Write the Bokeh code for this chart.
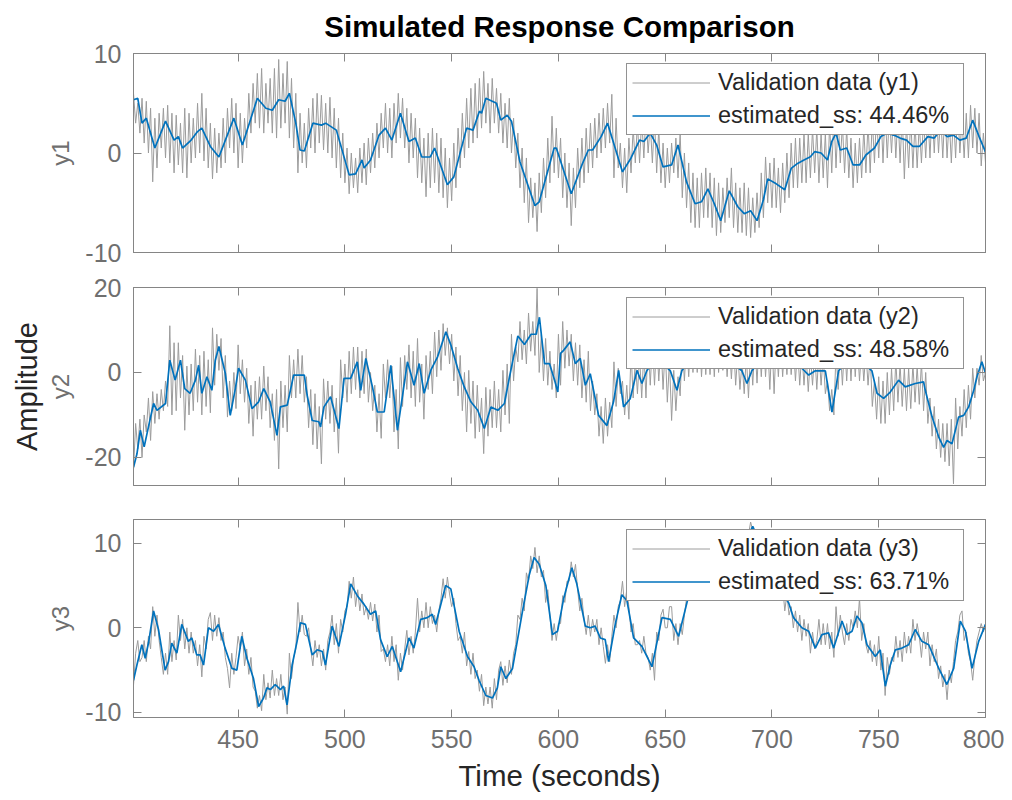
from bokeh.plotting import figure
from bokeh.layouts import column
from bokeh.models import Range1d, FixedTicker, LinearAxis, Legend, LegendItem, Title
from bokeh.embed import file_html
from bokeh.resources import INLINE

# ---------------- data ----------------
time_ticks = [450, 500, 550, 600, 650, 700, 750, 800]
val_t = list(range(401, 801))  # one validation sample per second

val_y1 = [6.0, 3.0, 5.0, 2.0, 5.5, 1.0, 5.2, 0.0, 4.5, -2.9, 3.5, -1.5, 4.0, 0.5, 4.5, -0.5, 4.8, -1.0, 4.0, -2.0,
          3.8, -1.2, 3.0, -2.0, 4.5, -2.5, 4.0, -1.0, 3.5, -0.5, 5.0, 0.0, 6.0, -0.8, 4.5, -1.5, 3.0, -2.6, 2.5, -2.0,
          2.0, -1.5, 3.5, -1.0, 4.5, 0.5, 5.5, 0.0, 5.0, -1.5, 4.0, -1.0, 3.5, 0.5, 6.0, 2.0, 7.0, 3.0, 8.0, 2.5,
          8.5, 2.0, 7.0, 3.0, 7.5, 2.0, 8.5, 1.5, 9.4, 2.5, 8.0, 3.0, 9.2, 1.5, 7.5, 0.5, 6.0, -2.0, 4.0, -1.0,
          3.0, -1.5, 4.5, 0.5, 5.5, 0.0, 6.0, 1.0, 5.8, 0.3, 5.0, 0.0, 5.6, -0.5, 4.5, -1.5, 3.5, -2.5, 2.0, -3.0,
          0.5, -4.1, 0.0, -3.5, -0.5, -4.0, 0.5, -3.0, 1.0, -3.2, 1.5, -2.0, 2.0, -1.5, 3.0, -0.5, 4.0, 0.5, 5.0, 0.0,
          4.5, -0.5, 5.0, 1.0, 6.0, 1.5, 5.5, 0.5, 4.5, -1.0, 4.0, -0.5, 3.5, -2.5, 2.5, -3.0, 1.5, -4.4, 2.0, -3.5,
          2.5, -3.0, 2.0, -4.0, 1.5, -4.5, 0.5, -5.5, -0.5, -4.8, 1.0, -3.5, 2.5, -1.5, 4.0, -0.5, 5.5, 0.5, 6.5, 1.0,
          7.0, 1.5, 7.5, 2.5, 8.2, 3.0, 7.0, 2.0, 7.5, 3.0, 6.5, 2.0, 6.0, 1.0, 5.0, 0.5, 5.5, 0.0, 3.5, -1.5,
          2.0, -3.5, 0.5, -5.0, -0.5, -7.0, -2.5, -6.5, -3.0, -7.9, -2.0, -6.0, -0.5, -4.5, 1.5, -3.0, 3.7, -2.0, 2.5, -2.5,
          1.5, -4.5, 0.0, -5.5, -1.0, -7.3, -1.5, -5.5, 0.5, -3.5, 1.5, -3.0, 2.5, -2.0, 3.0, -1.5, 3.5, -0.5, 4.0, 0.0,
          4.5, 0.5, 5.0, 1.0, 5.9, -2.5, 3.5, -1.5, 1.0, -3.5, 0.5, -4.0, 1.5, -2.0, 2.5, -1.0, 3.0, -1.0, 3.5, -0.5,
          4.0, 0.0, 3.0, -1.0, 3.5, -2.0, 2.5, -3.0, 1.0, -3.5, 0.5, -3.0, 1.0, -2.0, 1.5, -2.5, 2.0, -4.5, 0.0, -5.5,
          -1.0, -7.0, -2.0, -7.5, -2.5, -7.5, -2.0, -6.5, -1.5, -6.5, -2.0, -7.5, -2.5, -8.3, -3.0, -8.0, -3.5, -7.0, -2.5, -6.5,
          -1.5, -7.5, -3.0, -8.0, -3.5, -8.0, -3.0, -8.3, -3.5, -8.5, -4.5, -8.0, -4.0, -7.5, -2.0, -6.5, -0.4, -5.0, -1.0, -5.5,
          -0.5, -5.5, -1.5, -6.0, -1.0, -5.0, 0.0, -4.5, 1.0, -3.5, 1.5, -3.5, 1.5, -3.0, 2.0, -3.0, 2.0, -2.5, 2.5, -2.0,
          2.5, -3.0, 2.0, -2.5, 2.0, -3.5, 3.0, -2.0, 4.0, -1.5, 3.5, -1.0, 3.0, -2.0, 2.5, -2.5, 1.5, -3.5, 1.0, -3.0,
          1.5, -2.5, 2.5, -2.0, 3.0, -2.0, 3.5, -1.0, 4.0, -0.5, 4.5, -1.0, 4.5, -0.5, 4.0, 0.0, 4.5, -0.5, 4.0, -1.0,
          4.0, -2.6, 3.0, -1.5, 3.5, -1.5, 3.0, -1.5, 3.0, -1.0, 3.5, -0.5, 4.0, -0.5, 4.5, 0.0, 4.5, 0.0, 4.0, -0.5,
          4.5, -0.5, 3.5, -1.0, 4.0, -0.5, 4.5, 0.0, 3.5, -0.5, 4.0, -0.5, 4.8, 0.5, 4.5, 0.0, 4.0, -1.3, 2.0, -1.0]

val_y2 = [-23.0, -12.0, -18.0, -11.0, -20.0, -10.0, -14.0, -6.0, -16.0, -4.5, -12.0, -5.0, -11.0, -4.0, -9.0, -2.0, -8.0, 11.0, -10.0, 7.0,
          -9.0, 7.0, -6.0, 4.0, -13.6, 1.5, -10.0, 2.0, -9.0, 5.5, -7.0, 4.0, -10.0, 5.0, -8.0, 3.0, -9.5, 10.5, -3.0, 9.0,
          0.5, 8.0, -6.0, 4.0, -10.5, -2.0, -9.0, 0.0, -8.5, 6.5, -5.0, 3.0, -7.0, 1.0, -12.0, -3.0, -15.0, -2.0, -11.0, -1.0,
          -11.0, 1.5, -9.0, -1.0, -13.0, -5.0, -16.0, -4.0, -22.7, -2.0, -13.0, -3.0, -14.0, 4.0, -6.0, 3.0, -6.0, 5.5, -5.0, 4.0,
          -7.0, -1.0, -13.0, -4.0, -17.0, -5.0, -18.0, -8.0, -21.5, -1.5, -11.0, -2.0, -12.0, -3.0, -14.0, -6.0, -19.0, 3.0, -6.0, 2.0,
          -7.0, 5.0, -5.0, 6.0, -4.0, 6.0, -6.0, 5.0, -5.0, 5.5, -7.0, 0.0, -9.0, -3.0, -14.0, -5.0, -15.5, 2.0, -6.0, 3.0,
          -6.0, 1.5, -14.0, -4.0, -18.0, 3.5, -8.0, 4.0, -4.0, 6.5, -6.0, 5.0, -8.0, 8.0, -7.0, 2.0, -11.0, 4.0, -4.0, 5.0,
          -5.0, 9.5, -1.0, 10.0, 0.5, 11.5, 4.0, 10.5, 2.0, 9.0, -2.0, 6.0, -5.5, 4.0, -9.0, 0.0, -14.0, 0.5, -12.0, -2.0,
          -15.5, -3.0, -14.0, -6.0, -19.1, -3.5, -15.0, -4.0, -13.0, -2.0, -13.0, -4.0, -14.0, 0.5, -10.0, 2.0, -12.0, 9.0, -2.0, 6.0,
          2.5, 12.0, 3.0, 10.0, 2.0, 14.0, 5.0, 12.0, 4.0, 19.8, 0.0, 9.0, -2.0, 8.0, -3.0, 5.0, -4.0, 2.0, -6.0, 9.0,
          -3.0, 12.0, 1.0, 10.0, 1.5, 9.0, -2.0, 7.0, -3.0, 6.5, -6.0, 3.0, -7.0, 5.0, -9.0, -2.0, -10.0, -5.0, -15.0, -8.0,
          -16.7, -6.0, -15.0, -7.0, -13.0, 2.5, -8.0, 1.0, -5.0, -2.0, -10.0, -3.0, -11.0, 5.0, -6.0, 3.0, -5.0, 4.0, -6.0, 5.0,
          -6.0, 8.0, -3.0, 7.0, -3.0, 8.0, -2.0, 7.0, -4.0, 6.0, -7.0, 3.0, -11.3, 0.5, -9.0, -1.0, -5.5, 7.0, -2.0, 8.0,
          -1.0, 8.0, 0.0, 9.0, 0.0, 9.0, -1.0, 8.0, -0.5, 8.0, -0.5, 9.0, -1.0, 9.0, 0.0, 8.0, 0.5, 8.0, -1.0, 7.0,
          -1.5, 7.0, -3.0, 5.0, -4.0, 2.5, -5.0, 4.0, -6.0, 6.0, -3.0, 7.0, -2.5, 8.0, -1.0, 8.0, -1.0, 7.0, -4.0, 8.0,
          -5.0, 7.5, -1.0, 8.0, -1.0, 7.0, -0.5, 8.0, -0.5, 7.0, -2.0, 6.0, -3.0, 5.0, -3.0, 4.0, -4.5, 4.0, -3.0, 5.0,
          -4.0, 5.0, -3.0, 4.0, -5.0, -2.0, -9.0, -4.0, -10.0, 5.0, -4.0, 6.0, -3.0, 7.0, -2.0, 8.0, -2.0, 8.0, -1.0, 7.0,
          -2.0, 6.0, -2.0, 5.0, -3.0, 4.0, -8.0, -2.0, -11.0, -1.0, -12.0, -2.0, -12.0, 0.0, -10.0, 1.0, -9.0, 3.0, -7.0, 2.0,
          -8.0, 1.0, -9.0, 1.0, -8.5, 2.0, -7.0, 1.5, -7.5, 2.5, -9.0, 0.0, -12.0, -6.0, -15.0, -8.0, -18.0, -11.0, -20.0, -12.0,
          -21.0, -12.0, -22.0, -11.0, -26.2, -6.0, -18.0, -8.0, -15.0, -4.0, -13.0, -3.0, -11.0, 1.0, -6.0, 1.0, -3.0, 4.0, -2.0, 0.0]

val_y3 = [-6.8, -3.0, -1.5, -4.0, -3.5, -1.5, -4.0, -1.0, -2.5, 2.5, -1.0, 1.5, -1.5, -3.5, -5.5, -3.0, -5.5, -0.5, -4.0, -1.5,
          -3.8, 1.5, -1.5, 1.0, -2.5, 0.0, -3.0, -0.5, -3.0, -1.5, -4.5, -2.0, -5.8, -1.0, -2.5, 1.0, 1.8, -1.5, 1.5, -1.0,
          1.2, -1.5, -0.5, -3.5, -4.8, -7.1, -3.0, -5.5, -3.5, -1.0, -2.5, -0.5, -4.5, -2.5, -5.5, -3.5, -7.0, -7.5, -9.5, -8.0,
          -9.8, -5.5, -8.5, -6.5, -8.3, -5.0, -8.0, -6.0, -8.0, -5.5, -8.5, -7.0, -10.2, -3.0, -6.0, -3.5, -2.5, 3.0, -0.5, 1.5,
          -0.8, -1.0, 0.0, -2.5, -4.5, -1.5, -3.5, -2.0, -4.5, -2.5, -5.0, -1.5, -0.5, 1.5, -2.0, 0.5, -3.0, 1.0, -0.5, 2.0,
          2.5, 5.5, 3.5, 6.0, 2.5, 4.5, 2.0, 4.0, 1.5, 2.5, 1.0, 3.0, 0.8, 2.8, -0.5, 1.5, -2.8, -2.5, -4.0, -2.0,
          -4.5, -1.0, -4.0, -2.0, -6.2, -3.0, -5.0, -2.5, -0.3, -3.2, -1.0, -3.0, -0.5, 3.5, -0.5, 2.0, 0.0, 3.0, 0.0, 2.5,
          0.5, 1.5, -0.5, 2.0, 3.5, 5.8, 3.5, 6.0, 4.0, 2.5, 3.5, 0.5, -1.5, -1.0, -3.0, -0.5, -4.5, -2.8, -5.5, -3.0,
          -6.0, -5.0, -7.5, -5.5, -9.2, -7.0, -9.0, -7.0, -9.5, -6.0, -8.5, -5.0, -4.0, -6.8, -4.5, -6.5, -3.8, -5.5, -3.0, -2.0,
          1.5, 1.0, 3.5, 2.0, 6.5, 5.5, 8.5, 7.0, 9.5, 6.5, 8.5, 6.0, 6.8, 3.0, 4.5, 1.5, -1.5, 0.5, -1.5, 0.5,
          0.5, 3.8, 3.0, 5.5, 5.5, 7.8, 6.0, 7.5, 4.5, 2.0, 3.5, 1.0, -0.8, 1.5, -1.0, 1.0, -0.5, 1.0, -2.0, 0.0,
          -2.2, -4.2, -2.0, -4.0, -1.0, 1.5, 0.0, 2.5, 3.2, 5.5, 2.5, 4.5, 2.5, -0.5, 0.5, -2.0, -2.0, -1.5, -3.0, -1.0,
          -3.0, -3.5, -5.0, -3.0, -6.2, -0.5, -1.5, 1.5, 2.2, 0.0, 0.0, 2.5, 2.5, -1.5, 0.5, -2.0, 0.5, -0.8, 1.5, 3.5,
          4.5, 3.5, 6.0, 4.0, 7.0, 5.0, 8.0, 6.0, 9.0, 6.5, 9.5, 7.5, 9.0, 8.0, 10.0, 8.5, 10.3, 7.0, 9.0, 7.5,
          9.0, 7.5, 9.5, 8.0, 10.0, 8.0, 11.0, 9.5, 11.0, 12.5, 11.5, 10.5, 10.0, 9.5, 8.5, 10.0, 8.0, 6.5, 8.0, 6.0,
          7.0, 4.5, 6.0, 4.0, 5.0, 2.0, 4.0, 1.5, 2.5, 0.0, 2.0, -0.5, 1.5, -1.5, 1.0, -1.0, 0.5, -3.0, -0.5, -2.5,
          -1.5, 1.0, -2.0, 0.5, -2.0, 0.5, -2.5, -0.5, -3.5, 2.5, -1.0, 1.5, -0.5, -2.0, 0.5, -1.5, 1.0, 0.0, 2.0, 0.0,
          3.5, -1.5, 0.5, -2.0, -3.0, -1.5, -4.0, -2.0, -4.5, -1.0, -5.0, -3.0, -8.0, -3.5, -5.5, -3.5, -4.0, -1.0, -3.5, -1.5,
          -4.0, -0.5, -3.0, -1.0, -3.0, 1.0, -1.5, 0.5, -1.0, -3.5, -0.5, -2.5, -0.5, -4.5, -2.0, -4.0, -2.5, -6.0, -4.5, -7.0,
          -5.5, -8.5, -5.0, -6.5, -4.0, -1.5, -0.5, 1.5, 2.0, -1.5, -0.5, -3.0, -4.0, -6.2, -3.5, -1.5, -0.5, 0.5, -0.5, 0.3]

est1_t = [401, 403, 405, 407, 411, 416, 420, 422, 424, 428,
          431, 433, 437, 441, 448, 452, 459, 463, 466, 469,
          472, 474, 477, 479, 481, 485, 489, 491, 496, 502,
          505, 508, 509, 512, 516, 519, 522, 526, 530, 533,
          536, 540, 542, 548, 551, 557, 560, 563, 564, 566,
          571, 573, 576, 578, 582, 589, 591, 598, 599, 606,
          611, 614, 616, 620, 623, 630, 634, 638, 640, 643,
          646, 649, 653, 656, 660, 664, 667, 670, 673, 676,
          680, 684, 687, 690, 693, 696, 698, 702, 706, 709,
          712, 715, 718, 720, 723, 726, 728, 730, 732, 735,
          738, 741, 744, 748, 751, 754, 757, 760, 763, 766,
          769, 773, 776, 779, 782, 785, 788, 791, 794, 797, 800]
est1_y = [5.35, 5.5, 3.0, 3.5, 0.5, 3.2, 1.3, 1.65, 0.5, 1.3,
          2.15, 2.5, 0.66, -0.4, 3.5, 0.8, 5.5, 4.5, 4.3, 5.35,
          5.2, 6.0, 3.0, 0.3, 0.2, 3.0, 2.8, 3.0, 2.3, -2.2,
          -2.1, -0.7, -1.5, -0.7, 1.8, 2.5, 1.3, 4.0, 1.15, 1.5,
          -0.4, -0.4, 0.5, -3.2, -2.4, 2.5, 2.3, 4.2, 4.0, 5.5,
          5.0, 3.3, 3.8, 3.2, -0.9, -5.3, -4.9, 0.5, 0.5, -4.1,
          -1.2, 0.3, 0.3, 1.65, 3.0, -1.9, -0.5, 1.3, 1.15, 2.0,
          0.8, -1.4, -1.2, 0.8, -2.9, -5.1, -4.9, -3.6, -5.1, -6.8,
          -3.8, -5.4, -6.1, -5.8, -6.8, -4.7, -2.6, -3.1, -3.7, -1.55,
          -1.05, -0.7, -0.37, 0.13, 0.0, -0.7, 1.15, 2.0, 0.3, 0.5,
          -1.2, -1.2, -0.2, 0.5, 1.65, 2.0, 1.8, 1.5, 1.3, 0.66,
          0.66, 1.65, 1.5, 2.3, 1.65, 1.8, 1.3, 1.5, 3.3, 1.65, 0.1]

est2_t = [401, 402.6, 404.2, 406, 408, 410.4, 412, 416, 418, 420.5,
          423, 425, 427.5, 430, 431.5, 433, 435.4, 437.7, 439.3, 441,
          444, 446.3, 448.7, 450.2, 453.4, 456.5, 459.6, 462, 465, 468.2,
          469.8, 473, 476, 481, 482.3, 484.7, 487.8, 488.6, 490.2, 493.3,
          497.2, 499.6, 502.7, 505.8, 507.4, 509.8, 512.9, 515.2, 518.4, 521.5,
          524.6, 529.3, 532.4, 534.8, 537.1, 540.3, 543.4, 547.3, 549.6, 552.8,
          555.9, 559, 562.2, 565.3, 568.4, 571.6, 574.7, 577.1, 581, 584.1,
          587.2, 589.6, 591.1, 593.5, 595.8, 598.2, 599.7, 601, 602.4, 605.5,
          607.9, 610.2, 612.6, 614.9, 618.8, 622.7, 625.8, 628.2, 630.5, 633.6,
          636.8, 639.1, 641.4, 645, 649, 652.4, 655.5, 657.8, 662, 667,
          672, 677, 682, 685.9, 688.3, 690.6, 695, 700, 704, 709,
          714, 717.2, 720.3, 725, 728.1, 731.2, 735, 740, 746.8, 749.2,
          752.3, 755.4, 759.3, 762.4, 767.1, 771, 771.8, 775, 778.1, 780.4,
          782, 784.3, 787.4, 789.8, 792.1, 794.5, 796, 798.3, 800]
est2_y = [-22.3, -19.2, -13.6, -17.5, -12.8, -7.3, -8.9, -7.3, 2.9, -1.8,
          2.9, -3.8, -4.9, -1.8, 1.7, -4.9, -1.0, -4.2, 2.9, 6.1,
          -0.2, -10.1, -3.8, 1.0, -1.8, -8.5, -6.9, -3.8, -6.9, -14.8,
          -8.1, -7.7, -0.6, -0.6, -5.3, -11.3, -11.6, -12.8, -8.1, -5.7,
          -13.2, -1.4, -1.4, 2.5, -4.2, 3.3, -3.4, -9.3, -9.3, 1.7,
          -13.6, 2.5, -3.0, 2.1, -4.9, 0.6, 3.7, 9.6, 6.5, 1.0,
          -3.4, -6.9, -8.9, -13.2, -8.1, -8.9, -7.3, -1.0, 8.6, 6.6,
          9.0, 9.0, 13.0, 2.1, 2.1, -1.8, -4.6, 4.5, 5.2, 7.2,
          2.1, 3.3, -3.0, -0.3, -10.1, -12.5, -6.9, 0.5, -8.1, -6.2,
          0.5, -2.6, 0.4, 3.0, 2.0, 0.4, -4.2, 0.4, 3.5, 4.0,
          2.5, 4.0, 2.0, 0.4, -2.6, 0.4, 3.0, 1.5, 2.5, 3.0,
          1.0, -0.6, 0.4, 0.4, -9.3, 0.4, 2.5, 3.5, 0.4, -4.9,
          -6.1, -4.6, -1.8, -3.4, -2.6, -2.2, -4.2, -10.5, -15.2, -17.6,
          -16.0, -16.8, -10.5, -10.1, -8.1, -4.2, -1.0, 2.5, -0.2]

est3_t = [401, 402.6, 404.9, 406.5, 408, 410.4, 412.7, 415.8, 417.4, 418.9,
          421.3, 423.6, 426.7, 428.3, 430.6, 432.2, 433.8, 436.1, 438.5, 440.8,
          443.9, 447.1, 449.4, 451.7, 454.1, 457.2, 459.6, 461.9, 463.5, 465.1,
          467.4, 469.8, 471.3, 472.9, 475.3, 477.6, 479.2, 481.5, 484.7, 487,
          489.4, 490.9, 494, 497.2, 500.3, 502.7, 505.8, 508.9, 512, 514.4,
          516.7, 519.8, 522.2, 526.1, 530, 532.3, 535.5, 538.6, 540.9, 542.5,
          547.2, 549.6, 553.5, 557.4, 560.5, 562.8, 566, 569.1, 571.4, 573,
          575.4, 578.5, 583.2, 586.3, 588.6, 591, 594.1, 597.2, 599.6, 602.4,
          606.3, 608.6, 612.6, 614.9, 617.2, 619.6, 621.9, 623.5, 626.6, 629.7,
          632.1, 635.2, 639.1, 643.8, 648.5, 652.4, 656.3, 661, 665, 670,
          676, 680, 685, 691, 696, 701, 705, 707.8, 710.1, 714,
          717.2, 720.3, 723.4, 726.5, 728.9, 732.8, 735.1, 737.5, 739.8, 742.1,
          744.5, 748.4, 750.7, 753.1, 755.4, 757.8, 760.9, 764, 767.1, 770.2,
          773.4, 778.1, 781.9, 785.1, 788.2, 790.6, 793.7, 796.8, 800]
est3_y = [-6.2, -4.4, -2.0, -3.6, -1.8, 2.0, -0.2, -5.0, -4.0, -1.8,
          -3.0, 0.4, -1.6, -1.2, -3.2, -3.2, -4.4, 0.0, -0.4, 0.4,
          -2.4, -4.8, -5.0, -1.0, -3.6, -6.0, -9.3, -8.3, -7.1, -7.3,
          -6.7, -7.3, -6.9, -9.1, -4.4, -1.6, 0.6, 0.4, -3.2, -2.6,
          -2.8, -4.4, 0.2, -2.2, 1.6, 5.2, 3.8, 2.8, 1.6, 2.0,
          -1.4, -3.4, -2.2, -5.2, -1.2, -2.4, 1.0, 1.2, 1.6, 0.4,
          5.0, 4.6, -0.4, -3.4, -4.6, -6.2, -8.0, -8.3, -7.1, -4.6,
          -6.0, -4.8, 2.0, 6.2, 8.3, 7.5, 5.0, -0.8, -0.4, 3.4,
          7.1, 5.2, 0.2, 0.0, 0.2, -1.2, -1.4, -4.0, 0.4, 3.9,
          3.2, -1.2, -2.2, -4.6, 1.2, 1.0, -1.0, 3.8, 6.0, 8.0,
          9.5, 8.0, 9.0, 12.0, 9.0, 6.0, 4.0, 2.95, 1.2, 0.0,
          -0.4, -2.4, -0.8, -0.6, -2.4, 0.8, -0.8, -0.4, 1.4, 0.6,
          -2.0, -3.4, -2.6, -6.9, -4.4, -2.6, -2.4, -2.0, -0.2, -1.6,
          -2.0, -4.8, -6.7, -4.8, 0.8, -0.4, -4.8, -1.6, 0.4]

chart_title = "Simulated Response Comparison"
fit_labels = ["estimated_ss: 44.46%", "estimated_ss: 48.58%", "estimated_ss: 63.71%"]
val_labels = ["Validation data (y1)", "Validation data (y2)", "Validation data (y3)"]
y_labels = ["y1", "y2", "y3"]
y_limits = [(-10, 10), (-26.6, 20), (-10.6, 12.8)]
y_ticks = [[-10, 0, 10], [-20, 0, 20], [-10, 0, 10]]
y_tick_text = [{-10: "-10", 0: "0", 10: "10"},
               {-20: "-20", 0: "0", 20: "20"},
               {-10: "-10", 0: "0", 10: "10"}]

# ---------------- style ----------------
FONT = "Liberation Sans"
AX = "#858585"
TXT = "#262626"
TICK_TXT = "#6f6f6f"
BLUE = "#0072BD"
GRAY = "#9c9c9c"


def style_axis(ax, labels):
    ax.axis_line_color = AX
    ax.major_tick_line_color = AX
    ax.major_tick_in = 8
    ax.major_tick_out = 0
    ax.minor_tick_line_color = None
    ax.major_label_text_font = FONT
    if labels:
        ax.major_label_text_color = TICK_TXT
        ax.major_label_text_font_size = "25px"
        ax.major_label_standoff = 11
    else:
        ax.major_label_text_color = None
        ax.major_label_text_alpha = 0
        ax.major_label_text_font_size = "1px"
        ax.major_label_standoff = 0


def make_panel(i, frame_h, top_b, bottom_b, show_x):
    ylo, yhi = y_limits[i]
    p = figure(x_range=Range1d(401, 800), y_range=Range1d(ylo, yhi),
               frame_width=852, frame_height=frame_h,
               min_border_left=133, min_border_right=19,
               min_border_top=top_b, min_border_bottom=bottom_b,
               x_axis_location=None, y_axis_location=None,
               output_backend="svg", toolbar_location=None)
    p.xgrid.visible = False
    p.ygrid.visible = False
    p.outline_line_color = AX
    p.background_fill_color = "white"
    p.border_fill_color = "white"

    xt = FixedTicker(ticks=time_ticks)
    yt = FixedTicker(ticks=y_ticks[i])

    left = LinearAxis(ticker=yt)
    style_axis(left, True)
    left.major_label_standoff = 12
    left.major_label_overrides = y_tick_text[i]
    left.axis_label = y_labels[i]
    left.axis_label_text_font = FONT
    left.axis_label_text_font_size = "24px"
    left.axis_label_text_font_style = "normal"
    left.axis_label_text_color = TICK_TXT
    left.axis_label_standoff = 8
    p.add_layout(left, "left")

    right = LinearAxis(ticker=yt)
    style_axis(right, False)
    p.add_layout(right, "right")

    above = LinearAxis(ticker=xt)
    style_axis(above, False)
    p.add_layout(above, "above")

    below = LinearAxis(ticker=xt)
    style_axis(below, show_x)
    if show_x:
        below.major_label_standoff = 12
        below.axis_label = "Time (seconds)"
        below.axis_label_text_font = FONT
        below.axis_label_text_font_size = "29.5px"
        below.axis_label_text_font_style = "normal"
        below.axis_label_text_color = TXT
        below.axis_label_standoff = 8
    p.add_layout(below, "below")

    vals = [val_y1, val_y2, val_y3][i]
    et = [est1_t, est2_t, est3_t][i]
    ey = [est1_y, est2_y, est3_y][i]
    r_val = p.line(val_t, vals, line_color=GRAY, line_width=1.0)
    r_est = p.line(et, ey, line_color=BLUE, line_width=1.7)

    leg = Legend(items=[LegendItem(label=val_labels[i], renderers=[r_val]),
                        LegendItem(label=fit_labels[i], renderers=[r_est])],
                 location=(493, frame_h - 12 - 70),
                 border_line_color=TXT, border_line_width=1,
                 background_fill_color="white", background_fill_alpha=1.0,
                 label_text_font=FONT, label_text_font_size="23.5px",
                 label_text_color=TXT,
                 glyph_width=78, glyph_height=27, label_height=27,
                 label_width=240, label_standoff=8,
                 padding=5, spacing=6, margin=0)
    p.add_layout(leg)
    return p


p1 = make_panel(0, 199, 53, 18, False)
p1.title.text = chart_title
p1.title.align = "center"
p1.title.vertical_align = "top"
p1.title.text_font = FONT
p1.title.text_font_size = "29.5px"
p1.title.text_font_style = "bold"
p1.title.text_color = "#000000"
p1.title.standoff = 18

p2 = make_panel(1, 198, 17, 17, False)
p2.add_layout(Title(text="Amplitude", align="center", text_font=FONT,
                    text_font_size="29px", text_font_style="normal",
                    text_color=TXT, standoff=4), "left")

p3 = make_panel(2, 198, 17, 75, True)

layout = column(p1, p2, p3, spacing=0)

open("out.html", "w").write(file_html(layout, INLINE))
